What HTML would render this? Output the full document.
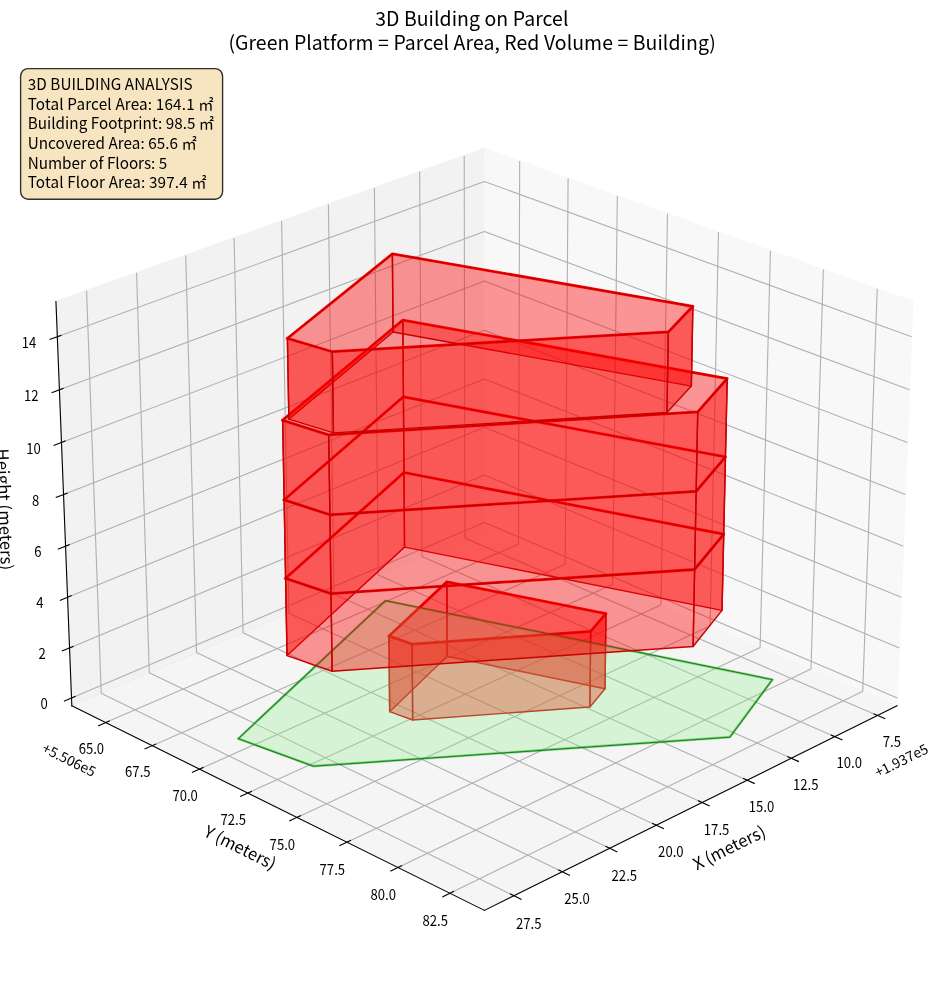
<!DOCTYPE html>
<html lang="en">
<head>
<meta charset="utf-8">
<title>3D Building on Parcel</title>
<style>
html,body{margin:0;padding:0;background:#fff}
body{width:944px;height:992px;overflow:hidden}
svg{display:block;will-change:transform}
svg text{font-family:'Noto Sans CJK JP', 'Liberation Sans', sans-serif;fill:#000}
</style>
</head>
<body>
<svg width="944" height="992" viewBox="0 0 944 992" role="img" aria-label="3D Building on Parcel">
<g stroke-linejoin="round" stroke-linecap="butt">
<path d="M0 992 L944 992 L944 0 L0 0 Z" fill="#fff"/>
<path d="M10 981.95 L933.9 981.95 L933.9 58.05 L10 58.05 Z" fill="#fff"/>
<g class="pane3d-1">
<path d="M484.44 529.79 L897.05 705.83 L912.92 301.57 L484.44 148.41" fill="#f2f2f2" stroke="#f2f2f2" stroke-width="1.39" stroke-linejoin="miter" opacity="0.5"/>
</g>
<g class="pane3d-2">
<path d="M484.44 529.79 L71.82 705.83 L55.95 301.57 L484.44 148.41" fill="#e6e6e6" stroke="#e6e6e6" stroke-width="1.39" stroke-linejoin="miter" opacity="0.5"/>
</g>
<g class="pane3d-3">
<path d="M484.44 529.79 L71.82 705.83 L484.44 910.38 L897.05 705.83" fill="#ececec" stroke="#ececec" stroke-width="1.39" stroke-linejoin="miter" opacity="0.5"/>
</g>
<g class="grid3d-1">
<path d="M877.63 715.46 L464.91 538.12 L464.22 155.64" fill="none" stroke="#b0b0b0" stroke-width="1.11"/>
<path d="M834.84 736.67 L421.93 556.46 L419.67 171.56" fill="none" stroke="#b0b0b0" stroke-width="1.11"/>
<path d="M791.32 758.24 L378.27 575.09 L374.4 187.74" fill="none" stroke="#b0b0b0" stroke-width="1.11"/>
<path d="M747.07 780.18 L333.92 594.01 L328.39 204.19" fill="none" stroke="#b0b0b0" stroke-width="1.11"/>
<path d="M702.05 802.5 L288.86 613.23 L281.63 220.9" fill="none" stroke="#b0b0b0" stroke-width="1.11"/>
<path d="M656.26 825.2 L243.08 632.76 L234.08 237.9" fill="none" stroke="#b0b0b0" stroke-width="1.11"/>
<path d="M609.66 848.3 L196.56 652.61 L185.73 255.18" fill="none" stroke="#b0b0b0" stroke-width="1.11"/>
<path d="M562.25 871.8 L149.29 672.78 L136.57 272.75" fill="none" stroke="#b0b0b0" stroke-width="1.11"/>
<path d="M514 895.72 L101.23 693.29 L86.57 290.63" fill="none" stroke="#b0b0b0" stroke-width="1.11"/>
</g>
<g class="grid3d-2">
<path d="M519.68 161.01 L518.46 544.3 L105.67 722.61" fill="none" stroke="#b0b0b0" stroke-width="1.11"/>
<path d="M568.08 178.31 L565.16 564.23 L152.18 745.67" fill="none" stroke="#b0b0b0" stroke-width="1.11"/>
<path d="M617.33 195.91 L612.65 584.49 L199.54 769.15" fill="none" stroke="#b0b0b0" stroke-width="1.11"/>
<path d="M667.46 213.83 L660.95 605.1 L247.78 793.06" fill="none" stroke="#b0b0b0" stroke-width="1.11"/>
<path d="M718.49 232.07 L710.1 626.07 L296.91 817.41" fill="none" stroke="#b0b0b0" stroke-width="1.11"/>
<path d="M770.44 250.64 L760.09 647.4 L346.97 842.23" fill="none" stroke="#b0b0b0" stroke-width="1.11"/>
<path d="M823.34 269.55 L810.97 669.11 L397.97 867.52" fill="none" stroke="#b0b0b0" stroke-width="1.11"/>
<path d="M877.21 288.81 L862.75 691.2 L449.96 893.29" fill="none" stroke="#b0b0b0" stroke-width="1.11"/>
</g>
<g class="grid3d-3">
<path d="M71.52 698.04 L484.44 522.42 L897.35 698.04" fill="none" stroke="#b0b0b0" stroke-width="1.11"/>
<path d="M69.55 647.9 L484.44 475.01 L899.32 647.9" fill="none" stroke="#b0b0b0" stroke-width="1.11"/>
<path d="M67.56 597.28 L484.44 427.18 L901.31 597.28" fill="none" stroke="#b0b0b0" stroke-width="1.11"/>
<path d="M65.56 546.17 L484.44 378.92 L903.31 546.17" fill="none" stroke="#b0b0b0" stroke-width="1.11"/>
<path d="M63.53 494.57 L484.44 330.23 L905.34 494.57" fill="none" stroke="#b0b0b0" stroke-width="1.11"/>
<path d="M61.49 442.46 L484.44 281.1 L907.39 442.46" fill="none" stroke="#b0b0b0" stroke-width="1.11"/>
<path d="M59.42 389.85 L484.44 231.52 L909.45 389.85" fill="none" stroke="#b0b0b0" stroke-width="1.11"/>
<path d="M57.33 336.72 L484.44 181.49 L911.54 336.72" fill="none" stroke="#b0b0b0" stroke-width="1.11"/>
</g>
<g class="axis3d-1">
<path d="M897.05 705.83 L484.44 910.38" fill="none" stroke="#000" stroke-width="1.11" stroke-linecap="square"/>
<path d="M874.08 713.93 L884.74 718.51" fill="none" stroke="#000" stroke-width="1.11" stroke-linecap="square"/>
<text font-size="13.89" text-anchor="middle" transform="translate(891.89 746.73) scale(0.945 1.08)">7.5</text>
<path d="M831.29 735.12 L841.95 739.78" fill="none" stroke="#000" stroke-width="1.11" stroke-linecap="square"/>
<text font-size="13.89" text-anchor="middle" transform="translate(849.16 768.13) scale(0.945 1.08)">10.0</text>
<path d="M787.77 756.67 L798.44 761.4" fill="none" stroke="#000" stroke-width="1.11" stroke-linecap="square"/>
<text font-size="13.89" text-anchor="middle" transform="translate(805.71 789.89) scale(0.945 1.08)">12.5</text>
<path d="M743.51 778.58 L754.2 783.4" fill="none" stroke="#000" stroke-width="1.11" stroke-linecap="square"/>
<text font-size="13.89" text-anchor="middle" transform="translate(761.52 812.03) scale(0.945 1.08)">15.0</text>
<path d="M698.49 800.87 L709.19 805.77" fill="none" stroke="#000" stroke-width="1.11" stroke-linecap="square"/>
<text font-size="13.89" text-anchor="middle" transform="translate(716.57 834.54) scale(0.945 1.08)">17.5</text>
<path d="M652.7 823.54 L663.4 828.52" fill="none" stroke="#000" stroke-width="1.11" stroke-linecap="square"/>
<text font-size="13.89" text-anchor="middle" transform="translate(670.85 857.45) scale(0.945 1.08)">20.0</text>
<path d="M606.1 846.61 L616.81 851.68" fill="none" stroke="#000" stroke-width="1.11" stroke-linecap="square"/>
<text font-size="13.89" text-anchor="middle" transform="translate(624.32 880.75) scale(0.945 1.08)">22.5</text>
<path d="M558.69 870.08 L569.4 875.24" fill="none" stroke="#000" stroke-width="1.11" stroke-linecap="square"/>
<text font-size="13.89" text-anchor="middle" transform="translate(576.97 904.47) scale(0.945 1.08)">25.0</text>
<path d="M510.43 893.97 L521.14 899.23" fill="none" stroke="#000" stroke-width="1.11" stroke-linecap="square"/>
<text font-size="13.89" text-anchor="middle" transform="translate(528.78 928.61) scale(0.945 1.08)">27.5</text>
<text x="929.38" y="752.32" font-size="13.89" text-anchor="end" letter-spacing="-0.05" transform="rotate(-26.37 929.38 752.32)">+1.937e5</text>
<text x="731.79" y="853.13" font-size="16.67" text-anchor="middle" transform="rotate(-26.37 731.79 853.13)">X (meters)</text>
</g>
<g class="axis3d-2">
<path d="M71.82 705.83 L484.44 910.38" fill="none" stroke="#000" stroke-width="1.11" stroke-linecap="square"/>
<path d="M109.22 721.08 L98.56 725.68" fill="none" stroke="#000" stroke-width="1.11" stroke-linecap="square"/>
<text font-size="13.89" text-anchor="middle" transform="translate(91.39 753.94) scale(0.945 1.08)">65.0</text>
<path d="M155.73 744.11 L145.06 748.8" fill="none" stroke="#000" stroke-width="1.11" stroke-linecap="square"/>
<text font-size="13.89" text-anchor="middle" transform="translate(137.83 777.2) scale(0.945 1.08)">67.5</text>
<path d="M203.1 767.56 L192.41 772.33" fill="none" stroke="#000" stroke-width="1.11" stroke-linecap="square"/>
<text font-size="13.89" text-anchor="middle" transform="translate(185.12 800.89) scale(0.945 1.08)">70.0</text>
<path d="M251.33 791.44 L240.64 796.3" fill="none" stroke="#000" stroke-width="1.11" stroke-linecap="square"/>
<text font-size="13.89" text-anchor="middle" transform="translate(233.28 825.02) scale(0.945 1.08)">72.5</text>
<path d="M300.47 815.77 L289.77 820.72" fill="none" stroke="#000" stroke-width="1.11" stroke-linecap="square"/>
<text font-size="13.89" text-anchor="middle" transform="translate(282.34 849.59) scale(0.945 1.08)">75.0</text>
<path d="M350.53 840.55 L339.83 845.6" fill="none" stroke="#000" stroke-width="1.11" stroke-linecap="square"/>
<text font-size="13.89" text-anchor="middle" transform="translate(332.33 874.63) scale(0.945 1.08)">77.5</text>
<path d="M401.54 865.8 L390.83 870.95" fill="none" stroke="#000" stroke-width="1.11" stroke-linecap="square"/>
<text font-size="13.89" text-anchor="middle" transform="translate(383.27 900.15) scale(0.945 1.08)">80.0</text>
<path d="M453.53 891.54 L442.82 896.78" fill="none" stroke="#000" stroke-width="1.11" stroke-linecap="square"/>
<text font-size="13.89" text-anchor="middle" transform="translate(435.18 926.15) scale(0.945 1.08)">82.5</text>
<text x="41.09" y="751.62" font-size="13.89" letter-spacing="-0.03" transform="rotate(26.37 41.09 751.62)">+5.506e5</text>
<text x="237.58" y="852.93" font-size="16.67" text-anchor="middle" transform="rotate(26.37 237.58 852.93)">Y (meters)</text>
</g>
<g class="axis3d-3">
<path d="M71.82 705.83 L55.95 301.57" fill="none" stroke="#000" stroke-width="1.11" stroke-linecap="square"/>
<path d="M75.07 696.53 L64.41 701.07" fill="none" stroke="#000" stroke-width="1.11" stroke-linecap="square"/>
<text font-size="13.89" text-anchor="middle" transform="translate(44.21 709.1) scale(0.945 1.08)">0</text>
<path d="M73.12 646.41 L62.4 650.88" fill="none" stroke="#000" stroke-width="1.11" stroke-linecap="square"/>
<text font-size="13.89" text-anchor="middle" transform="translate(42.11 658.96) scale(0.945 1.08)">2</text>
<path d="M71.15 595.82 L60.38 600.21" fill="none" stroke="#000" stroke-width="1.11" stroke-linecap="square"/>
<text font-size="13.89" text-anchor="middle" transform="translate(39.99 608.33) scale(0.945 1.08)">4</text>
<path d="M69.16 544.73 L58.34 549.05" fill="none" stroke="#000" stroke-width="1.11" stroke-linecap="square"/>
<text font-size="13.89" text-anchor="middle" transform="translate(37.85 557.23) scale(0.945 1.08)">6</text>
<path d="M67.15 493.15 L56.27 497.4" fill="none" stroke="#000" stroke-width="1.11" stroke-linecap="square"/>
<text font-size="13.89" text-anchor="middle" transform="translate(35.69 505.62) scale(0.945 1.08)">8</text>
<path d="M65.13 441.07 L54.19 445.25" fill="none" stroke="#000" stroke-width="1.11" stroke-linecap="square"/>
<text font-size="13.89" text-anchor="middle" transform="translate(33.51 453.52) scale(0.945 1.08)">10</text>
<path d="M63.08 388.49 L52.09 392.58" fill="none" stroke="#000" stroke-width="1.11" stroke-linecap="square"/>
<text font-size="13.89" text-anchor="middle" transform="translate(31.31 400.9) scale(0.945 1.08)">12</text>
<path d="M61.01 335.38 L49.96 339.4" fill="none" stroke="#000" stroke-width="1.11" stroke-linecap="square"/>
<text font-size="13.89" text-anchor="middle" transform="translate(29.08 347.77) scale(0.945 1.08)">14</text>
<text x="-1.36" y="509.6" font-size="16.67" text-anchor="middle" letter-spacing="0.07" transform="rotate(87.75 -1.36 509.6)">Height (meters)</text>
</g>
<g class="axes-1">
<path d="M238.23 738.7 L313.47 766.19 L729.85 737.13 L772.37 679.63 L385.44 600.7 L238.23 738.7" fill="none" stroke="#088808" stroke-width="1.25" stroke-linecap="square"/>
<path d="M388.98 635.96 L412.15 644.12 L590.67 631.44 L605.92 613.58 L446.86 581.88 L388.98 635.96" fill="none" stroke="#f00" stroke-width="2.78" stroke-linecap="square"/>
<path d="M285.6 578.27 L331.02 593.59 L694.62 569.49 L723.73 534.22 L403.98 472.5 L285.6 578.27" fill="none" stroke="#f00" stroke-width="2.78" stroke-linecap="square"/>
<path d="M284.14 499.85 L329.88 514.78 L696.16 491.29 L725.46 456.94 L403.41 396.82 L284.14 499.85" fill="none" stroke="#f00" stroke-width="2.78" stroke-linecap="square"/>
<path d="M282.65 420.27 L328.73 434.8 L697.73 411.95 L727.22 378.53 L402.84 320.06 L282.65 420.27" fill="none" stroke="#f00" stroke-width="2.78" stroke-linecap="square"/>
<path d="M287.4 338.39 L332.31 351.71 L668.3 331.96 L692.87 306.29 L392.38 253.85 L287.4 338.39" fill="none" stroke="#f00" stroke-width="2.78" stroke-linecap="square"/>
<g class="poly3dcollection-1">
<path d="M605.06 688.76 L447.13 656.31 L446.86 581.88 L605.92 613.58 Z" fill="#f00" fill-opacity="0.4" stroke="#c80000" stroke-width="1.39"/>
<path d="M447.13 656.31 L389.66 711.66 L388.98 635.96 L446.86 581.88 Z" fill="#f00" fill-opacity="0.4" stroke="#c80000" stroke-width="1.39"/>
<path d="M589.91 707.04 L605.06 688.76 L605.92 613.58 L590.67 631.44 Z" fill="#f00" fill-opacity="0.4" stroke="#c80000" stroke-width="1.39"/>
<path d="M412.67 720.02 L589.91 707.04 L590.67 631.44 L412.15 644.12 Z" fill="#f00" fill-opacity="0.4" stroke="#c80000" stroke-width="1.39"/>
<path d="M389.66 711.66 L412.67 720.02 L412.15 644.12 L388.98 635.96 Z" fill="#f00" fill-opacity="0.4" stroke="#c80000" stroke-width="1.39"/>
</g>
<text x="375.16" y="25.92" font-size="19.44" letter-spacing="0.069">3D Building on Parcel</text>
<text x="228.39" y="49.87" font-size="19.44" letter-spacing="0.069">(Green Platform = Parcel Area, Red Volume = Building)</text>
<g class="poly3dcollection-2">
<path d="M238.23 738.7 L313.47 766.19 L729.85 737.13 L772.37 679.63 L385.44 600.7 Z" fill="#90ee90" fill-opacity="0.3" stroke="#008000" stroke-width="2.64" stroke-opacity="0.3"/>
</g>
<g class="poly3dcollection-3">
<path d="M722.03 610.4 L404.54 547.12 L403.98 472.5 L723.73 534.22 Z" fill="#f00" fill-opacity="0.4" stroke="#c80000" stroke-width="1.39"/>
<path d="M404.54 547.12 L287.05 655.54 L285.6 578.27 L403.98 472.5 Z" fill="#f00" fill-opacity="0.4" stroke="#c80000" stroke-width="1.39"/>
<path d="M693.1 646.54 L722.03 610.4 L723.73 534.22 L694.62 569.49 Z" fill="#f00" fill-opacity="0.4" stroke="#c80000" stroke-width="1.39"/>
<path d="M332.14 671.24 L693.1 646.54 L694.62 569.49 L331.02 593.59 Z" fill="#f00" fill-opacity="0.4" stroke="#c80000" stroke-width="1.39"/>
<path d="M287.05 655.54 L332.14 671.24 L331.02 593.59 L285.6 578.27 Z" fill="#f00" fill-opacity="0.4" stroke="#c80000" stroke-width="1.39"/>
</g>
<g class="poly3dcollection-4">
<path d="M723.73 534.22 L403.98 472.5 L403.41 396.82 L725.46 456.94 Z" fill="#f00" fill-opacity="0.4" stroke="#c80000" stroke-width="1.39"/>
<path d="M403.98 472.5 L285.6 578.27 L284.14 499.85 L403.41 396.82 Z" fill="#f00" fill-opacity="0.4" stroke="#c80000" stroke-width="1.39"/>
<path d="M694.62 569.49 L723.73 534.22 L725.46 456.94 L696.16 491.29 Z" fill="#f00" fill-opacity="0.4" stroke="#c80000" stroke-width="1.39"/>
<path d="M331.02 593.59 L694.62 569.49 L696.16 491.29 L329.88 514.78 Z" fill="#f00" fill-opacity="0.4" stroke="#c80000" stroke-width="1.39"/>
<path d="M285.6 578.27 L331.02 593.59 L329.88 514.78 L284.14 499.85 Z" fill="#f00" fill-opacity="0.4" stroke="#c80000" stroke-width="1.39"/>
</g>
<g class="poly3dcollection-5">
<path d="M725.46 456.94 L403.41 396.82 L402.84 320.06 L727.22 378.53 Z" fill="#f00" fill-opacity="0.4" stroke="#c80000" stroke-width="1.39"/>
<path d="M403.41 396.82 L284.14 499.85 L282.65 420.27 L402.84 320.06 Z" fill="#f00" fill-opacity="0.4" stroke="#c80000" stroke-width="1.39"/>
<path d="M696.16 491.29 L725.46 456.94 L727.22 378.53 L697.73 411.95 Z" fill="#f00" fill-opacity="0.4" stroke="#c80000" stroke-width="1.39"/>
<path d="M329.88 514.78 L696.16 491.29 L697.73 411.95 L328.73 434.8 Z" fill="#f00" fill-opacity="0.4" stroke="#c80000" stroke-width="1.39"/>
<path d="M284.14 499.85 L329.88 514.78 L328.73 434.8 L282.65 420.27 Z" fill="#f00" fill-opacity="0.4" stroke="#c80000" stroke-width="1.39"/>
</g>
<g class="poly3dcollection-6">
<path d="M691.35 386.08 L393.04 332.05 L392.38 253.85 L692.87 306.29 Z" fill="#f00" fill-opacity="0.4" stroke="#c80000" stroke-width="1.39"/>
<path d="M393.04 332.05 L288.86 419.12 L287.4 338.39 L392.38 253.85 Z" fill="#f00" fill-opacity="0.4" stroke="#c80000" stroke-width="1.39"/>
<path d="M666.94 412.5 L691.35 386.08 L692.87 306.29 L668.3 331.96 Z" fill="#f00" fill-opacity="0.4" stroke="#c80000" stroke-width="1.39"/>
<path d="M333.44 432.84 L666.94 412.5 L668.3 331.96 L332.31 351.71 Z" fill="#f00" fill-opacity="0.4" stroke="#c80000" stroke-width="1.39"/>
<path d="M288.86 419.12 L333.44 432.84 L332.31 351.71 L287.4 338.39 Z" fill="#f00" fill-opacity="0.4" stroke="#c80000" stroke-width="1.39"/>
</g>
</g>
</g>
<g class="info-box" font-size="15.28">
<rect x="20.6" y="68.6" width="202" height="130.6" rx="7.6" ry="7.6" fill="#f5deb3" fill-opacity="0.8" stroke="#000" stroke-opacity="0.8" stroke-width="1.39"/>
<text x="27.7" y="90.4" letter-spacing="0.086">3D BUILDING ANALYSIS</text>
<text x="27.7" y="110.2" letter-spacing="0.16">Total Parcel Area: 164.1 ㎡</text>
<text x="27.7" y="129.1" letter-spacing="0.02">Building Footprint: 98.5 ㎡</text>
<text x="27.7" y="149.3" letter-spacing="0.043">Uncovered Area: 65.6 ㎡</text>
<text x="27.7" y="169.4" letter-spacing="-0.01">Number of Floors: 5</text>
<text x="27.7" y="188.1" letter-spacing="0.137">Total Floor Area: 397.4 ㎡</text>
</g>
</svg>
</body>
</html>
